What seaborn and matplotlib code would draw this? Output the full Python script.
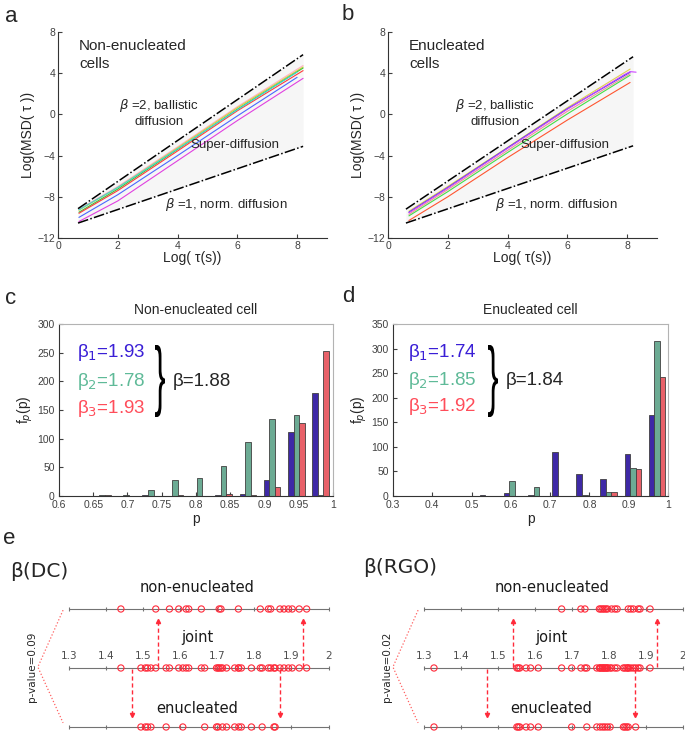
import numpy as np
import pandas as pd
import matplotlib
matplotlib.use('Agg')
import matplotlib.pyplot as plt
import matplotlib.transforms as mtransforms
from matplotlib.textpath import TextPath
from matplotlib.patches import PathPatch
from matplotlib.font_manager import FontProperties
import seaborn as sns

# ---------------- data ----------------
# a : MSD curves, non-enucleated cells
tau_a = [0.7, 2, 4, 6, 8.2]
tau_a_short = [0.7, 2, 4, 6, 8.0]
a_pink = [-9.2, -7.0, -3.15, 0.75, 4.75]
a_yellow = [-9.3, -7.1, -3.25, 0.65, 4.6]
a_green = [-9.5, -7.25, -3.4, 0.5, 4.5]
a_red = [-9.6, -7.4, -3.55, 0.35, 4.25]
a_cyan = [-9.25, -7.1, -3.35, 0.45, 4.1]
a_blue = [-10.0, -7.8, -4.0, -0.15, 3.6]
a_magenta = [-10.4, -8.4, -4.5, -0.6, 3.5]
ref_x_a = [0.67, 8.2]
ballistic_a = [-9.15, 5.8]
normal_a = [-10.55, -3.1]

# b : MSD curves, enucleated cells
tau_b = [0.7, 2, 4, 6, 8.1]
tau_b_violet = [0.7, 2, 4, 6, 7.9, 8.1, 8.3]
b_yellow = [-9.4, -7.0, -3.2, 0.65, 4.4]
b_blue = [-9.5, -7.1, -3.25, 0.55, 4.1]
b_violet = [-9.55, -7.15, -3.3, 0.5, 3.85, 4.15, 4.1]
b_pink = [-9.7, -7.3, -3.5, 0.3, 3.95]
b_green = [-9.85, -7.5, -3.7, 0.05, 3.8]
b_orange = [-10.3, -8.0, -4.2, -0.55, 3.1]
ref_x_b = [0.6, 8.2]
ballistic_b = [-9.2, 5.6]
normal_b = [-10.55, -3.05]

# c : histogram, non-enucleated
c_p = [0.663, 0.698, 0.734, 0.769, 0.805, 0.840, 0.876, 0.911, 0.947, 0.982]
c_b1 = [0, 0, 1, 0, 0, 2, 4, 28, 112, 180]
c_b2 = [1, 2, 11, 28, 31, 53, 95, 134, 141, 1]
c_b3 = [1, 0, 0, 1, 0, 4, 1, 15, 128, 253]

# d : histogram, enucleated
d_p = [0.420, 0.481, 0.542, 0.603, 0.665, 0.726, 0.788, 0.849, 0.911, 0.972]
d_b1 = [1, 1, 3, 7, 3, 90, 45, 34, 86, 165]
d_b2 = [0, 0, 0, 30, 19, 1, 3, 9, 56, 315]
d_b3 = [0, 0, 0, 0, 0, 1, 0, 9, 55, 243]

# e : beta values per cell
dc_nonenuc = [1.440, 1.534, 1.571, 1.596, 1.616, 1.623, 1.657, 1.705, 1.710, 1.757,
              1.816, 1.838, 1.844, 1.869, 1.880, 1.892, 1.902, 1.921, 1.941]
dc_enuc = [1.494, 1.506, 1.512, 1.521, 1.562, 1.607, 1.666, 1.698, 1.702, 1.714,
           1.725, 1.747, 1.758, 1.765, 1.792, 1.821, 1.853, 1.856]
rgo_nonenuc = [1.672, 1.724, 1.735, 1.774, 1.778, 1.783, 1.787, 1.792, 1.796, 1.807,
               1.816, 1.822, 1.852, 1.859, 1.866, 1.879, 1.884, 1.911]
rgo_enuc = [1.327, 1.551, 1.555, 1.559, 1.576, 1.588, 1.609, 1.699, 1.740, 1.767,
            1.776, 1.783, 1.789, 1.796, 1.803, 1.839, 1.843, 1.848, 1.852, 1.872]
up_arrows = [1.54, 1.93]
down_arrows = [1.47, 1.87]
beta_ticks = [1.3, 1.4, 1.5, 1.6, 1.7, 1.8, 1.9, 2.0]
beta_ticklabels = ['1.3', '1.4', '1.5', '1.6', '1.7', '1.8', '1.9', '2']

# ---------------- style ----------------
sns.set_style('ticks')
plt.rcParams['font.family'] = ['Liberation Sans', 'DejaVu Sans']
plt.rcParams['axes.edgecolor'] = '0.2'
plt.rcParams['axes.linewidth'] = 0.8

col_b1 = '#3014bb'
col_b2 = '#62b597'
col_b3 = '#ff4a55'
txt_b1 = '#3a1fd6'
txt_b2 = '#5fba98'
txt_b3 = '#ff4d5a'
red = '#ff2a3a'

W, H = 685, 731
fig = plt.figure(figsize=(W / 100, H / 100), dpi=100)


def px_axes(left, top, right, bottom):
    return fig.add_axes([left / W, 1 - bottom / H, (right - left) / W, (bottom - top) / H])


def brace(x0, y0, x1, y1):
    tp = TextPath((0, 0), '}', size=1, prop=FontProperties(family='Liberation Sans'))
    ext = tp.get_extents()
    tr = (mtransforms.Affine2D().translate(-ext.x0, -ext.y0)
          .scale((x1 - x0) / ext.width / W, (y1 - y0) / ext.height / H)
          .translate(x0 / W, 1 - y1 / H) + fig.transFigure)
    fig.add_artist(PathPatch(tp, transform=tr, color='k', lw=0))


# ---------------- a, b ----------------
def msd_panel(ax, curves, colors, ref_x, ball, norm, label, cx):
    frames = []
    for name, (xs, ys) in curves.items():
        frames.append(pd.DataFrame({'tau': xs, 'msd': ys, 'curve': name}))
    df = pd.concat(frames)
    ax.fill_between(ref_x, norm, ball, color='#f6f6f6', lw=0)
    sns.lineplot(data=df, x='tau', y='msd', hue='curve', palette=colors, ax=ax,
                 legend=False, lw=0.8, estimator=None, sort=False)
    ax.plot(ref_x, ball, color='k', lw=1.1, dashes=(7, 1.5, 1, 1.5))
    ax.plot(ref_x, norm, color='k', lw=1.1, dashes=(7, 1.5, 1, 1.5))
    ax.set_xlim(0, 9)
    ax.set_ylim(-12, 8)
    ax.set_xticks([0, 2, 4, 6, 8])
    ax.set_yticks([-12, -8, -4, 0, 4, 8])
    ax.tick_params(direction='in', length=3, labelsize=7.5, colors='0.25', pad=2)
    ax.set_xlabel('Log( τ(s))', fontsize=10, labelpad=0)
    ax.set_ylabel('Log(MSD( τ ))', fontsize=10, labelpad=2)
    sns.despine(ax=ax)
    ax.text(0.7, 5.8, label, fontsize=11, va='center', linespacing=1.35)
    ax.text(cx, 0.17, '$\\beta$ =2, ballistic\ndiffusion', fontsize=9.5,
            ha='center', va='center', multialignment='center')
    ax.text(5.93, -2.97, 'Super-diffusion', fontsize=9.5, ha='center', va='center')
    ax.text(5.62, -8.7, '$\\beta$ =1, norm. diffusion', fontsize=9.5, ha='center', va='center')


ax_a = px_axes(58, 32, 327, 238)
msd_panel(ax_a,
          {'pink': (tau_a, a_pink), 'yellow': (tau_a, a_yellow), 'green': (tau_a, a_green),
           'red': (tau_a, a_red), 'cyan': (tau_a_short, a_cyan), 'blue': (tau_a_short, a_blue),
           'magenta': (tau_a, a_magenta)},
          {'pink': '#ffb3c6', 'yellow': '#d9cc3a', 'green': '#3cc43c', 'red': '#ff3b3b',
           'cyan': '#3fd6d6', 'blue': '#4a66ff', 'magenta': '#e040e0'},
          ref_x_a, ballistic_a, normal_a, 'Non-enucleated\ncells', 3.39)

ax_b = px_axes(388, 32, 657, 238)
msd_panel(ax_b,
          {'yellow': (tau_b, b_yellow), 'blue': (tau_b, b_blue), 'violet': (tau_b_violet, b_violet),
           'pink': (tau_b, b_pink), 'green': (tau_b, b_green), 'orange': (tau_b, b_orange)},
          {'yellow': '#e0cc50', 'blue': '#3030ff', 'violet': '#cc44ff', 'pink': '#f08aa0',
           'green': '#44dd44', 'orange': '#ff5530'},
          ref_x_b, ballistic_b, normal_b, 'Enucleated\ncells', 3.57)


# ---------------- c, d ----------------
def hist_panel(ax, p, b1, b2, b3, title, xlim, xticks, xticklabels, ylim, labels, tx, ty, bx, btxt):
    df = pd.concat([pd.DataFrame({'p': p, 'f': b1, 'beta': 'b1'}),
                    pd.DataFrame({'p': p, 'f': b2, 'beta': 'b2'}),
                    pd.DataFrame({'p': p, 'f': b3, 'beta': 'b3'})])
    sns.barplot(data=df, x='p', y='f', hue='beta', native_scale=True, width=0.7,
                palette=[col_b1, col_b2, col_b3], errorbar=None, edgecolor='0.25',
                linewidth=0.6, legend=False, ax=ax)
    ax.set_xlim(*xlim)
    ax.set_ylim(*ylim)
    ax.set_xticks(xticks)
    ax.set_xticklabels(xticklabels)
    ax.set_yticks(np.arange(0, ylim[1] + 1, 50))
    ax.tick_params(direction='in', length=3, labelsize=7.5, colors='0.25', pad=3)
    for s in ['top', 'right']:
        ax.spines[s].set_color('0.7')
    ax.set_title(title, fontsize=10, pad=7)
    ax.set_xlabel('p', fontsize=10, labelpad=1)
    ax.set_ylabel('f$_p$(p)', fontsize=10, labelpad=2)
    for lab, yy, c in zip(labels, ty, [txt_b1, txt_b2, txt_b3]):
        ax.text(tx, yy, lab, color=c, fontsize=13.5, va='center')
    ax.text(bx, ty[1], btxt, fontsize=13.5, va='center')


ax_c = px_axes(59, 324, 333, 496)
hist_panel(ax_c, c_p, c_b1, c_b2, c_b3, 'Non-enucleated cell', (0.6, 1.0),
           [0.6, 0.65, 0.7, 0.75, 0.8, 0.85, 0.9, 0.95, 1.0],
           ['0.6', '0.65', '0.7', '0.75', '0.8', '0.85', '0.9', '0.95', '1'], (0, 300),
           ['β$_1$=1.93', 'β$_2$=1.78', 'β$_3$=1.93'], 0.626, [250, 200, 152], 0.766, 'β=1.88')
brace(155, 345, 165, 417)

ax_d = px_axes(393, 324, 668, 496)
hist_panel(ax_d, d_p, d_b1, d_b2, d_b3, 'Enucleated cell', (0.3, 1.0),
           [0.3, 0.4, 0.5, 0.6, 0.7, 0.8, 0.9, 1.0],
           ['0.3', '0.4', '0.5', '0.6', '0.7', '0.8', '0.9', '1'], (0, 350),
           ['β$_1$=1.74', 'β$_2$=1.85', 'β$_3$=1.92'], 0.338, [291, 235, 182], 0.588, 'β=1.84')
brace(488, 345, 498, 417)


# ---------------- e ----------------
def strip_panel(ax, title, tx, ty, pval, px, nonenuc, enuc):
    joint = sorted(nonenuc + enuc)
    ax.set_xlim(1.3, 2.0)
    ax.set_ylim(-0.068, 2.915)
    ax.axis('off')
    for row, vals in [(2, nonenuc), (1, joint), (0, enuc)]:
        ax.plot([1.3, 2.0], [row, row], color='0.45', lw=0.8, clip_on=False)
        ax.plot(beta_ticks, [row] * len(beta_ticks), ls='none', marker='|', ms=3.5,
                mew=0.8, color='0.45', clip_on=False)
        sns.scatterplot(x=vals, y=[row] * len(vals), ax=ax, marker='o', s=20,
                        facecolor='none', edgecolor=red, linewidth=0.8, zorder=3,
                        clip_on=False)
    for t, lab in zip(beta_ticks, beta_ticklabels):
        ax.text(t, 1.2, lab, fontsize=7.5, color='0.3', ha='center', va='center',
                family='DejaVu Sans')
    for x in up_arrows:
        ax.plot([x, x], [1.02, 1.78], color=red, lw=1, dashes=(3, 2))
        ax.plot(x, 1.79, marker='^', ms=3, color=red)
    for x in down_arrows:
        ax.plot([x, x], [0.98, 0.22], color=red, lw=1, dashes=(3, 2))
        ax.plot(x, 0.21, marker='v', ms=3, color=red)
    ax.plot([1.284, 1.216, 1.284], [1.98, 1.017, 0.07], color='#ff6060', ls=':',
            lw=0.9, clip_on=False)
    ax.text(px, 1.02, pval, rotation=90, fontsize=7.5, ha='center', va='center',
            family='DejaVu Sans')
    kw = dict(fontsize=10.5, ha='center', va='center', family='DejaVu Sans', color='0.1')
    ax.text(1.645, 2.36, 'non-enucleated', **kw)
    ax.text(1.645, 1.51, 'joint', **kw)
    ax.text(1.645, 0.32, 'enucleated', **kw)
    ax.text(tx, ty, title, fontsize=14.5, va='center', family='DejaVu Sans')


ax_e1 = px_axes(69, 555, 328.5, 731)
strip_panel(ax_e1, 'β(DC)', 1.141, 2.63, 'p-value=0.09', 1.2015, dc_nonenuc, dc_enuc)
ax_e2 = px_axes(424, 555, 683, 731)
strip_panel(ax_e2, 'β(RGO)', 1.135, 2.71, 'p-value=0.02', 1.199, rgo_nonenuc, rgo_enuc)

# panel letters
for lab, x, y in [('a', 5, 16), ('b', 342, 14), ('c', 5, 298), ('d', 342, 296), ('e', 3, 538)]:
    fig.text(x / W, 1 - y / H, lab, fontsize=16, va='center')

fig.savefig('out.png', dpi=100)
